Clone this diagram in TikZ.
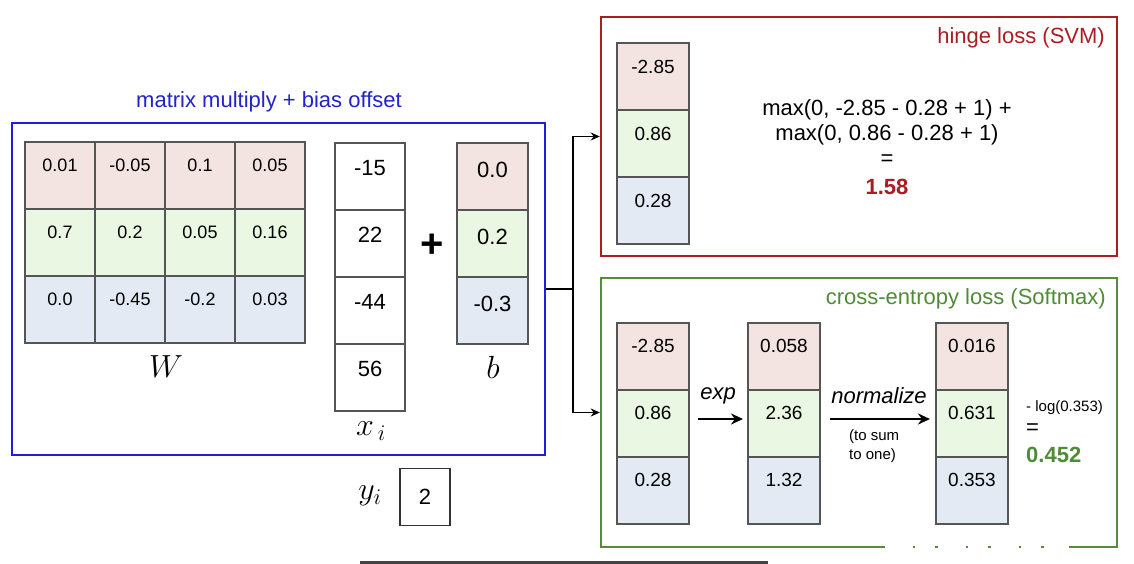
\RequirePackage{fix-cm}
\documentclass[tikz,border=0pt]{standalone}
\usepackage{fontspec}
\setmainfont{Liberation Sans}
\usetikzlibrary{arrows.meta,calc}
\definecolor{cred}{RGB}{243,228,225}
\definecolor{cgreen}{RGB}{234,247,227}
\definecolor{cblue}{RGB}{227,234,244}
\definecolor{cline}{RGB}{85,85,85}
\definecolor{fblue}{RGB}{30,30,220}
\definecolor{tblue}{RGB}{35,35,205}
\definecolor{fred}{RGB}{170,30,35}
\definecolor{fgreen}{RGB}{85,140,60}
\definecolor{tgreen}{RGB}{80,140,55}
\definecolor{barcol}{RGB}{68,68,68}
\newcommand{\mkcell}[9]{%
  \node[cellbox, fill=#6, minimum width=#4pt, minimum height=#5pt] (#1) at ({#2+#4/2},{#3+#5/2}) {};
  \node[#7] (#1t) at ($(#1.north)+(0,#9)$) {#8};
}
\begin{document}
\begin{tikzpicture}[x=1pt,y=-1pt,
  cellbox/.style={draw=cline, line width=1.2pt, inner sep=0pt, outer sep=0pt},
  wtxt/.style={font=\fontsize{18}{22}\selectfont, inner sep=0pt},
  btxt/.style={font=\fontsize{22}{26}\selectfont, inner sep=0pt},
  stxt/.style={font=\fontsize{19}{23}\selectfont, inner sep=0pt},
  frame/.style={draw=#1, line width=2.4pt, inner sep=0pt},
  ttl/.style={font=\fontsize{22}{26}\selectfont, inner sep=0pt},
  mtxt/.style={font=\fontsize{22}{26}\selectfont, inner sep=0pt},
  smalltxt/.style={font=\fontsize{15}{19}\selectfont, inner sep=0pt},
  mathlbl/.style={font=\fontsize{32}{36}\selectfont, inner sep=0pt},
  conn/.style={draw=black, line width=1.5pt},
  arrowc/.style={draw=black, line width=1.5pt, -{Stealth[length=9pt,width=8pt]}},
  bigarrow/.style={draw=black, line width=2.4pt, -{Stealth[length=12pt,width=11pt]}},
]
\useasboundingbox (0,0) rectangle (1134,564);
\fill[white] (0,0) rectangle (1134,564);

% frames
\node[frame=fblue, minimum width=533pt, minimum height=332pt] (mm) at (278.5,289) {};
\node[frame=fred, minimum width=516pt, minimum height=239pt] (hb) at (859,136.5) {};
\node[frame=fgreen, minimum width=516pt, minimum height=269pt] (sb) at (859,412.5) {};
\node[ttl, text=tblue] (mmt) at (269,102) {matrix multiply + bias offset};
\node[ttl, text=fred, anchor=east] (hbt) at (1105,38) {hinge loss (SVM)};
\node[ttl, text=tgreen, anchor=east] (sbt) at (1106,299) {cross-entropy loss (Softmax)};

% W
\mkcell{w11}{25}{142}{70}{67}{cred}{wtxt}{0.01}{23}
\mkcell{w12}{95}{142}{70}{67}{cred}{wtxt}{-0.05}{23}
\mkcell{w13}{165}{142}{70}{67}{cred}{wtxt}{0.1}{23}
\mkcell{w14}{235}{142}{70}{67}{cred}{wtxt}{0.05}{23}
\mkcell{w21}{25}{209}{70}{67}{cgreen}{wtxt}{0.7}{23}
\mkcell{w22}{95}{209}{70}{67}{cgreen}{wtxt}{0.2}{23}
\mkcell{w23}{165}{209}{70}{67}{cgreen}{wtxt}{0.05}{23}
\mkcell{w24}{235}{209}{70}{67}{cgreen}{wtxt}{0.16}{23}
\mkcell{w31}{25}{276}{70}{67}{cblue}{wtxt}{0.0}{23}
\mkcell{w32}{95}{276}{70}{67}{cblue}{wtxt}{-0.45}{23}
\mkcell{w33}{165}{276}{70}{67}{cblue}{wtxt}{-0.2}{23}
\mkcell{w34}{235}{276}{70}{67}{cblue}{wtxt}{0.03}{23}
\node[mathlbl] (wl) at (166,367) {$W$};

% x_i
\mkcell{x1}{335}{143}{70}{67}{white}{btxt}{-15}{25}
\mkcell{x2}{335}{210}{70}{67}{white}{btxt}{22}{25}
\mkcell{x3}{335}{277}{70}{67}{white}{btxt}{-44}{25}
\mkcell{x4}{335}{344}{70}{67}{white}{btxt}{56}{25}
\node[mathlbl] (xl) at (371,431) {$x_{\,i}$};

\node[font=\fontsize{40}{44}\selectfont\bfseries, inner sep=0pt] (plus) at (432,246) {+};

% b
\mkcell{b1}{457}{143}{71}{67}{cred}{btxt}{0.0}{27}
\mkcell{b2}{457}{210}{71}{67}{cgreen}{btxt}{0.2}{27}
\mkcell{b3}{457}{277}{71}{67}{cblue}{btxt}{-0.3}{27}
\node[mathlbl] (bl) at (493,367) {$b$};

% y_i
\node[mathlbl] (yl) at (370,496) {$y_i$};
\node[draw=black!80, line width=1.4pt, minimum width=50pt, minimum height=57pt, inner sep=0pt, font=\fontsize{22}{26}\selectfont] (yb) at (425,497) {2};

% hinge
\mkcell{h1}{617}{43}{72}{67}{cred}{stxt}{-2.85}{24}
\mkcell{h2}{617}{110}{72}{67}{cgreen}{stxt}{0.86}{24}
\mkcell{h3}{617}{177}{72}{67}{cblue}{stxt}{0.28}{24}
\node[mtxt] (f1) at (887,110) {max(0, -2.85 - 0.28 + 1) +};
\node[mtxt] (f2) at (887,135) {max(0, 0.86 - 0.28 + 1)};
\node[mtxt] (f3) at (887,160) {=};
\node[mtxt, font=\fontsize{22}{26}\selectfont\bfseries, text=fred] (f4) at (887,187) {1.58};

% softmax
\mkcell{s1}{617}{323}{72}{67}{cred}{stxt}{-2.85}{23}
\mkcell{s2}{617}{390}{72}{67}{cgreen}{stxt}{0.86}{23}
\mkcell{s3}{617}{457}{72}{67}{cblue}{stxt}{0.28}{23}
\mkcell{e1}{748}{323}{72}{67}{cred}{stxt}{0.058}{23}
\mkcell{e2}{748}{390}{72}{67}{cgreen}{stxt}{2.36}{23}
\mkcell{e3}{748}{457}{72}{67}{cblue}{stxt}{1.32}{23}
\mkcell{p1}{936}{323}{72}{67}{cred}{stxt}{0.016}{23}
\mkcell{p2}{936}{390}{72}{67}{cgreen}{stxt}{0.631}{23}
\mkcell{p3}{936}{457}{72}{67}{cblue}{stxt}{0.353}{23}

\draw[bigarrow] ([xshift=9pt,yshift=4.5pt]s2.east) -- ([xshift=-5pt,yshift=4.5pt]e2.west);
\node[mtxt, font=\fontsize{22}{26}\selectfont\itshape] (expl) at (718,396) {exp};
\draw[bigarrow] ([xshift=10pt,yshift=4.5pt]e2.east) -- ([xshift=-6pt,yshift=4.5pt]p2.west);
\node[mtxt, font=\fontsize{22}{26}\selectfont\itshape] (norml) at (879,396) {normalize};
\node[smalltxt, align=left, anchor=west] (tosum) at (849,446) {(to sum\\to one)};
\node[smalltxt, anchor=west] (logl) at (1026,408) {- log(0.353)};
\node[mtxt, anchor=west] (eql) at (1026,429) {=};
\node[mtxt, anchor=west, font=\fontsize{22}{26}\selectfont\bfseries, text=tgreen] (res) at (1026,455) {0.452};

% connectors
\coordinate (split) at (573,289);
\draw[conn] (mm.east) -- (split);
\draw[arrowc] (split) |- (hb.west);
\draw[arrowc] (split) |- (sb.west);

% screen artefacts
\draw[white, line width=3.5pt, dash pattern=on 28pt off 2pt on 20pt off 3pt] (885,547) -- (1069,547);
\fill[barcol] (360,561) rectangle (768,564);
\end{tikzpicture}
\end{document}
